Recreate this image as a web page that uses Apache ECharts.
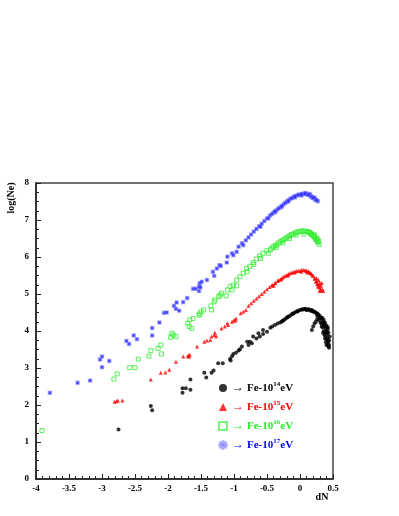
<!DOCTYPE html>
<html>
<head>
<meta charset="utf-8">
<script src="https://cdn.jsdelivr.net/npm/echarts@6/dist/echarts.min.js"></script>
<style>html,body{margin:0;padding:0;background:#fff}#c{width:399px;height:516px}</style>
</head>
<body>
<div id="c"></div>
<script>
const seriesNames = ['Fe-10^14eV', 'Fe-10^15eV', 'Fe-10^16eV', 'Fe-10^17eV'];
const xTicks = [-4, -3.5, -3, -2.5, -2, -1.5, -1, -0.5, 0, 0.5];
const yTicks = [0, 1, 2, 3, 4, 5, 6, 7, 8];

const fe14 = [
  [-2.75,1.34],[-2.26,1.97],[-2.24,1.86],[-1.78,2.45],[-1.73,2.45],[-1.78,2.33],[-1.66,2.69],[-1.66,2.41],
  [-1.45,2.87],[-1.42,2.74],[-1.34,2.87],[-1.31,2.93],[-1.24,3.13],[-1.17,3.13],[-1.06,3.24],[-1.03,3.32],
  [-1.05,3.20],[-1.01,3.38],[-0.97,3.41],[-0.93,3.47],[-0.91,3.51],[-0.88,3.58],[-0.80,3.71],[-0.78,3.62],
  [-0.76,3.71],[-0.73,3.67],[-0.71,3.85],[-0.66,3.80],[-0.63,3.94],[-0.61,3.85],[-0.56,3.92],[-0.56,4.03],
  [-0.50,3.98],[-0.45,4.09],[-0.42,4.12],[-0.38,4.16],[-0.34,4.20],[-0.30,4.23],[-0.26,4.28],[-0.23,4.32],
  [-0.19,4.37],[-0.15,4.41],[-0.11,4.46],[-0.08,4.50],[-0.04,4.53],[0.00,4.57],[0.04,4.58],[0.08,4.60],
  [0.10,4.56],[0.13,4.59],[0.16,4.55],[0.18,4.57],[0.21,4.53],[0.24,4.50],[0.27,4.46],[0.30,4.41],
  [0.32,4.35],[0.35,4.25],[0.37,4.16],[0.39,4.07],[0.40,3.98],[0.41,3.89],[0.42,3.80],[0.43,3.71],
  [0.44,3.62],[0.44,3.55],[0.33,4.20],[0.34,4.10],[0.36,4.00],[0.37,3.90],[0.38,3.80],[0.39,3.70],
  [0.40,3.62],[0.36,4.30],[0.38,4.22],[0.40,4.15],[0.42,4.05],[0.43,3.95],[0.45,3.85],[0.44,3.75],
  [0.29,4.30],[0.31,4.22],[0.33,4.12],[0.35,3.95],[0.28,4.38],[0.26,4.42],
  [0.18,4.03],[0.20,4.12],[0.22,4.20],[0.24,4.25],[0.26,4.32],
  [-0.275,4.26],[-0.25,4.29],[-0.20,4.36],[-0.175,4.39],[-0.125,4.45],[-0.10,4.48],[-0.05,4.53],[-0.025,4.55],
  [0.025,4.58],[0.05,4.59],[0.075,4.59],[0.125,4.58],[0.15,4.57],[0.175,4.55],[0.20,4.53],[0.225,4.51],
  [0.25,4.48],[0.275,4.44],[0.325,4.33],[0.34,4.35],[0.36,4.20],[0.38,4.12],[0.39,3.95],[0.41,3.75],
  [0.42,3.65],[0.43,3.58],[0.41,3.95],[0.42,4.10],[0.38,3.88],[0.40,3.80]
];
const fe15 = [
  [-2.81,2.09],[-2.78,2.10],[-2.76,2.12],[-2.69,2.12],[-2.26,2.69],[-2.11,2.87],[-2.04,2.88],[-1.98,2.95],
  [-1.88,3.17],[-1.77,3.31],[-1.70,3.32],[-1.68,3.31],[-1.67,3.36],[-1.69,3.34],[-1.56,3.58],[-1.45,3.71],
  [-1.41,3.74],[-1.36,3.76],[-1.34,3.85],[-1.30,3.89],[-1.27,3.86],[-1.29,3.95],[-1.19,4.07],[-1.14,4.12],
  [-1.09,4.16],[-1.10,4.21],[-1.03,4.25],[-1.00,4.30],[-0.97,4.34],[-0.98,4.28],[-0.90,4.48],[-0.86,4.52],
  [-0.82,4.57],[-0.78,4.68],[-0.74,4.75],[-0.70,4.82],[-0.66,4.88],[-0.62,4.94],[-0.58,5.00],[-0.54,5.06],
  [-0.50,5.13],[-0.46,5.19],[-0.42,5.24],[-0.38,5.29],[-0.34,5.35],[-0.30,5.39],[-0.25,5.46],[-0.20,5.51],
  [-0.15,5.56],[-0.10,5.59],[-0.05,5.62],[0.00,5.63],[0.05,5.65],[0.09,5.63],[0.13,5.60],[0.16,5.56],
  [0.19,5.50],[0.22,5.42],[0.24,5.33],[0.27,5.20],[0.30,5.08],
  [0.25,5.43],[0.28,5.38],[0.30,5.30],[0.32,5.22],[0.34,5.12],[0.35,5.08],[0.31,5.15],[0.29,5.25],
  [0.33,5.30],[0.26,5.28],[-0.40,5.22],[-0.28,5.40],[-0.18,5.50],[-0.08,5.58],[0.02,5.60],[0.11,5.58],
  [-0.425,5.23],[-0.375,5.30],[-0.325,5.37],[-0.275,5.43],[-0.225,5.49],[-0.175,5.54],[-0.125,5.58],
  [-0.075,5.61],[-0.025,5.63],[0.025,5.65],[0.075,5.64],[0.10,5.63],[0.125,5.61],[0.15,5.58],[0.175,5.54],
  [0.20,5.49],[0.225,5.42],[0.25,5.35],[0.27,5.27],[0.29,5.18],[0.31,5.10]
];
const fe16 = [
  [-3.91,1.31],[-2.82,2.70],[-2.77,2.84],[-2.58,3.01],[-2.50,3.01],[-2.45,3.24],[-2.29,3.32],[-2.26,3.47],
  [-2.15,3.53],[-2.11,3.62],[-2.10,3.38],[-1.96,3.83],[-1.92,3.89],[-1.88,3.85],[-1.94,3.94],[-1.70,4.21],
  [-1.67,4.30],[-1.64,4.07],[-1.68,4.12],[-1.62,4.34],[-1.53,4.46],[-1.52,4.43],[-1.50,4.52],[-1.46,4.57],
  [-1.34,4.57],[-1.35,4.68],[-1.30,4.79],[-1.29,4.84],[-1.23,4.93],[-1.21,4.97],[-1.12,4.95],[-1.19,5.02],
  [-1.10,5.11],[-1.06,5.20],[-1.03,5.11],[-1.01,5.24],[-0.96,5.22],[-0.96,5.38],[-0.91,5.47],[-0.86,5.56],
  [-0.80,5.60],[-0.81,5.69],[-0.76,5.75],[-0.71,5.85],[-0.66,5.95],[-0.61,6.03],[-0.56,6.10],[-0.50,6.17],
  [-0.45,6.20],[-0.40,6.28],[-0.35,6.33],[-0.30,6.41],[-0.25,6.46],[-0.20,6.52],[-0.15,6.58],[-0.10,6.62],
  [-0.05,6.67],[0.00,6.69],[0.05,6.70],[0.10,6.69],[0.14,6.67],[0.18,6.60],[0.21,6.55],[0.24,6.47],
  [0.27,6.40],[0.29,6.34],
  [-0.70,5.80],[-0.60,5.96],[-0.48,6.10],[-0.36,6.26],[-0.26,6.38],[-0.16,6.50],[-0.06,6.59],[0.06,6.62],
  [0.16,6.63],[0.22,6.60],[0.26,6.50],[0.28,6.44],
  [-0.425,6.24],[-0.375,6.31],[-0.325,6.38],[-0.275,6.44],[-0.225,6.50],[-0.175,6.56],[-0.125,6.61],
  [-0.075,6.65],[-0.025,6.68],[0.025,6.70],[0.075,6.70],[0.125,6.68],[0.15,6.66],[0.175,6.62],[0.20,6.58],
  [0.225,6.53],[0.25,6.47],[0.27,6.41]
];
const fe17 = [
  [-3.79,2.33],[-3.37,2.60],[-3.18,2.66],[-3.00,3.02],[-3.03,3.23],[-3.00,3.31],[-2.89,3.19],[-2.63,3.73],
  [-2.59,3.65],[-2.52,3.88],[-2.47,3.78],[-2.24,3.88],[-2.24,4.08],[-2.13,4.23],[-2.06,4.49],[-2.02,4.50],
  [-1.91,4.68],[-1.87,4.77],[-1.88,4.60],[-1.83,4.55],[-1.77,4.78],[-1.71,4.89],[-1.62,5.14],[-1.58,5.14],
  [-1.53,5.20],[-1.53,5.08],[-1.52,5.29],[-1.49,5.33],[-1.51,5.18],[-1.41,5.38],[-1.30,5.49],[-1.32,5.60],
  [-1.26,5.69],[-1.22,5.78],[-1.20,5.76],[-1.11,5.85],[-1.10,6.01],[-1.03,6.10],[-1.01,6.05],[-0.96,6.14],
  [-0.93,6.28],[-0.88,6.37],[-0.86,6.32],[-0.82,6.45],[-0.78,6.53],[-0.74,6.61],[-0.70,6.69],[-0.66,6.76],
  [-0.62,6.83],[-0.58,6.90],[-0.54,6.97],[-0.50,7.04],[-0.455,7.12],[-0.40,7.20],[-0.35,7.27],[-0.30,7.34],
  [-0.25,7.42],[-0.20,7.49],[-0.15,7.57],[-0.10,7.62],[-0.05,7.66],[0.00,7.69],[0.05,7.70],[0.10,7.70],
  [0.13,7.68],[0.16,7.65],[0.19,7.61],[0.22,7.57],[0.24,7.54],[0.27,7.51],
  [-0.60,6.82],[-0.48,7.05],[-0.38,7.21],[-0.28,7.36],[-0.18,7.50],[-0.08,7.61],[0.02,7.66],[0.08,7.73],
  [0.15,7.70],[0.22,7.60],
  [-0.425,7.16],[-0.375,7.24],[-0.325,7.31],[-0.275,7.38],[-0.225,7.46],[-0.175,7.53],[-0.125,7.59],
  [-0.075,7.64],[-0.025,7.68],[0.025,7.70],[0.075,7.71],[0.125,7.68],[0.175,7.63],[0.20,7.60],[0.25,7.54]
];

const asterisk = 'path://M9,0h2v20h-2z M0,9h20v2h-20z M2.2,3.6l1.4,-1.4l14.2,14.2l-1.4,1.4z M16.4,2.2l1.4,1.4l-14.2,14.2l-1.4,-1.4z';
const serif = 'Liberation Serif';
const legendColors = ['#000000', '#ff0000', '#22ee22', '#0000ff'];

const chart = echarts.init(document.getElementById('c'), null, {renderer: 'canvas'});
const axisCommon = {
  axisLine: {show: true, onZero: false, lineStyle: {color: '#222', width: 1.5}},
  axisTick: {show: true, inside: true, length: 5, lineStyle: {color: '#222', width: 1}},
  minorTick: {show: true, length: 3, lineStyle: {color: '#222', width: 1}},
  splitLine: {show: false},
  axisLabel: {color: '#000', fontFamily: serif, fontWeight: 'bold', fontSize: 9}
};
function legendItem(i, icon, itemStyle) {
  const c = legendColors[i];
  return {name: seriesNames[i], icon: icon, itemStyle: itemStyle,
    textStyle: {color: c, rich: {arr: {color: c}, t: {color: c}, sup: {color: c}}}};
}
chart.setOption({
  animation: false,
  backgroundColor: '#fff',
  grid: {left: 36, right: 66, top: 183, bottom: 37, show: true, borderColor: '#444', borderWidth: 1.5},
  xAxis: Object.assign({}, axisCommon, {
    type: 'value', min: xTicks[0], max: xTicks[xTicks.length - 1], interval: 0.5,
    minorTick: Object.assign({}, axisCommon.minorTick, {splitNumber: 5}),
    axisLabel: Object.assign({}, axisCommon.axisLabel, {margin: 5, formatter: v => String(v)})
  }),
  yAxis: Object.assign({}, axisCommon, {
    type: 'value', min: yTicks[0], max: yTicks[yTicks.length - 1], interval: 1,
    minorTick: Object.assign({}, axisCommon.minorTick, {splitNumber: 4}),
    axisLabel: Object.assign({}, axisCommon.axisLabel, {margin: 7})
  }),
  legend: {
    orient: 'vertical', left: 213, top: 376, itemWidth: 8, itemHeight: 8, itemGap: 5,
    textStyle: {fontFamily: serif, fontWeight: 'bold', fontSize: 11, lineHeight: 14,
      rich: {
        arr: {fontFamily: serif, fontSize: 12, fontWeight: 'normal'},
        sup: {fontFamily: serif, fontSize: 7, fontWeight: 'bold', verticalAlign: 'top', lineHeight: 10},
        t: {fontFamily: serif, fontSize: 11, fontWeight: 'bold'}
      }
    },
    formatter: function (name) {
      const sup = name.split('^')[1].replace('eV', '');
      return '{arr|\u2192 }{t|Fe-10}{sup|' + sup + '}{t|eV}';
    },
    data: [
      legendItem(0, 'circle', {color: '#000'}),
      legendItem(1, 'triangle', {color: '#ff0000'}),
      legendItem(2, 'rect', {color: 'rgba(0,0,0,0)', borderColor: '#22ee22', borderWidth: 1.5}),
      legendItem(3, asterisk, {color: '#8080ff'})
    ]
  },
  graphic: [
    {type: 'text', x: 11, y: 198, rotation: Math.PI / 2,
     style: {text: 'log(Ne)', fill: '#000', font: 'bold 10px "Liberation Serif"', textAlign: 'center', textVerticalAlign: 'middle'}},
    {type: 'text', x: 322, y: 497,
     style: {text: 'dN', fill: '#000', font: 'bold 10px "Liberation Serif"', textAlign: 'center', textVerticalAlign: 'middle'}}
  ],
  series: [
    {name: seriesNames[0], type: 'scatter', data: fe14, symbol: 'circle', symbolSize: 4,
     itemStyle: {color: '#000'}},
    {name: seriesNames[1], type: 'scatter', data: fe15, symbol: 'triangle', symbolSize: 4,
     itemStyle: {color: '#ff0000'}},
    {name: seriesNames[2], type: 'scatter', data: fe16, symbol: 'rect', symbolSize: 4,
     itemStyle: {color: 'rgba(0,0,0,0)', borderColor: '#33ee33', borderWidth: 1}},
    {name: seriesNames[3], type: 'scatter', data: fe17, symbol: 'rect', symbolSize: 3,
     itemStyle: {color: '#1a1aff', borderColor: 'rgba(110,110,255,0.55)', borderWidth: 1.5}}
  ]
});
</script>
</body>
</html>
